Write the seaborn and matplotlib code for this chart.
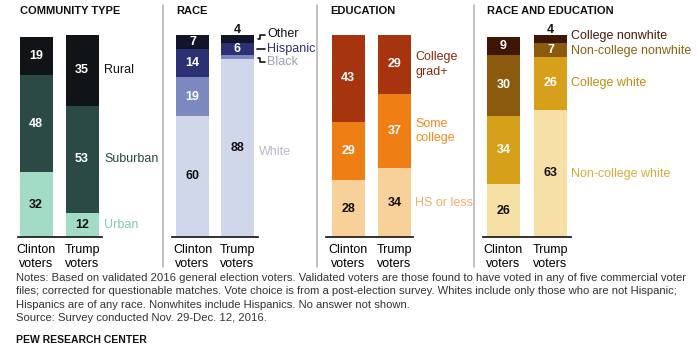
import matplotlib
matplotlib.use("Agg")
import matplotlib.pyplot as plt
import seaborn as sns
import numpy as np
import pandas as pd

sns.set_style("white")
plt.rcParams['font.family'] = ['Liberation Sans', 'DejaVu Sans']

voters = ["Clinton voters", "Trump voters"]
tick_labels = ["Clinton\nvoters", "Trump\nvoters"]

# Data (bottom segment first)
community_cats = ["Urban", "Suburban", "Rural"]
community_clinton = [32, 48, 19]
community_trump = [12, 53, 35]

race_cats = ["White", "Black", "Hispanic", "Other"]
race_clinton = [60, 19, 14, 7]
race_trump = [88, 2, 6, 4]

edu_cats = ["HS or less", "Some\ncollege", "College\ngrad+"]
edu_clinton = [28, 29, 43]
edu_trump = [34, 37, 29]

re_cats = ["Non-college white", "College white", "Non-college nonwhite", "College nonwhite"]
re_clinton = [26, 34, 30, 9]
re_trump = [63, 26, 7, 4]

W, H = 700, 350
fig = plt.figure(figsize=(7, 3.5), dpi=100)
fig.patch.set_facecolor("white")

BASE_Y, TOP_Y = 237, 35


def make_panel(c_center, t_center, base_left, base_right, cats, cvals, tvals, colors,
               val_colors_c, val_colors_t, title, title_x):
    spacing = t_center - c_center
    ax = fig.add_axes([base_left / W, (H - BASE_Y) / H, (base_right - base_left) / W,
                       (BASE_Y - TOP_Y) / H])
    width = 33 / spacing
    cum_c = np.cumsum(cvals)
    cum_t = np.cumsum(tvals)
    n = len(cats)
    for i in range(n - 1, -1, -1):
        df = pd.DataFrame({"voter": voters, "value": [cum_c[i], cum_t[i]]})
        sns.barplot(data=df, x="voter", y="value", order=voters, color=colors[i],
                    width=width, errorbar=None, ax=ax, linewidth=0, saturation=1)
    ax.set_xlim((base_left - c_center) / spacing, (base_right - c_center) / spacing)
    ax.set_ylim(0, 100)
    ax.set_xlabel("")
    ax.set_ylabel("")
    ax.set_yticks([])
    ax.set_xticks([0, 1])
    ax.set_xticklabels(tick_labels, fontsize=9, color="#000000", linespacing=1.2)
    ax.tick_params(axis="x", length=0, pad=5)
    for s in ["top", "left", "right"]:
        ax.spines[s].set_visible(False)
    ax.spines["bottom"].set_color("#222222")
    ax.spines["bottom"].set_linewidth(1.3)
    ax.set_facecolor("none")
    fig.text(title_x / W, 1 - 11 / H, title, fontsize=8, fontweight="bold",
             color="#111111", va="center", ha="left")
    # value labels
    for j, (vals, cums, vcols) in enumerate([(cvals, cum_c, val_colors_c),
                                             (tvals, cum_t, val_colors_t)]):
        for i, v in enumerate(vals):
            col = vcols[i]
            if col is None:
                continue
            if col == "above":
                ax.text(j, cums[i] + 2.5, str(v), ha="center", va="center",
                        fontsize=9, fontweight="bold", color="#111111", clip_on=False)
            else:
                ax.text(j, cums[i] - v / 2, str(v), ha="center", va="center",
                        fontsize=9, fontweight="bold", color=col)
    return ax, spacing, c_center


def px_to_data(px, c_center, spacing):
    return (px - c_center) / spacing


def py_to_data(py):
    return (BASE_Y - py) / (BASE_Y - TOP_Y) * 100


WH = "white"
BK = "#111111"

# Panel 1: community type
com_colors = ["#a3dcc6", "#2b4a46", "#111416"]
ax1, sp1, cc1 = make_panel(36, 82, 18, 102, community_cats, community_clinton, community_trump,
                           com_colors, [BK, WH, WH], [BK, WH, WH], "COMMUNITY TYPE", 20)
lab_cols = ["#7fcbb0", "#2b4a46", "#111111"]
cum = np.cumsum(community_trump)
for i, c in enumerate(community_cats):
    ax1.text(px_to_data(104, cc1, sp1), cum[i] - community_trump[i] / 2, c,
             ha="left", va="center", fontsize=9, color=lab_cols[i], clip_on=False)

# Panel 2: race
race_colors = ["#d0d7ea", "#7d88bf", "#2c3174", "#12142a"]
ax2, sp2, cc2 = make_panel(192.5, 237.5, 172, 258, race_cats, race_clinton, race_trump,
                           race_colors, [BK, WH, WH, WH], [BK, None, WH, "above"], "RACE", 176)
cum = np.cumsum(race_trump)
ax2.text(px_to_data(259, cc2, sp2), cum[0] - race_trump[0] / 2 - 2, "White",
         ha="left", va="center", fontsize=9, color="#b4b8c8", clip_on=False)
race_lab = [("Other", 34, "#111111"), ("Hispanic", 49, "#2c3174"), ("Black", 62, "#9aa0b8")]
for name, py, col in race_lab:
    ax2.text(px_to_data(267, cc2, sp2), py_to_data(py), name, ha="left", va="center",
             fontsize=9, color=col, clip_on=False)
# connectors
xd = lambda p: px_to_data(p, cc2, sp2)
ax2.plot([xd(258), xd(260), xd(260), xd(265)],
         [py_to_data(39), py_to_data(39), py_to_data(35), py_to_data(35)],
         color="#111111", lw=1.2, clip_on=False)
ax2.plot([xd(257), xd(265)], [py_to_data(49), py_to_data(49)], color="#111111", lw=1.2,
         clip_on=False)
ax2.plot([xd(258), xd(260), xd(260), xd(265)],
         [py_to_data(58), py_to_data(58), py_to_data(62), py_to_data(62)],
         color="#111111", lw=1.2, clip_on=False)

# Panel 3: education
edu_colors = ["#f7d09a", "#ef7f14", "#a6340f"]
ax3, sp3, cc3 = make_panel(348, 394.5, 326, 413, edu_cats, edu_clinton, edu_trump,
                           edu_colors, [BK, WH, WH], [BK, WH, WH], "EDUCATION", 330)
edu_lab_cols = ["#f2ad66", "#f08a1e", "#8b2a12"]
cum = np.cumsum(edu_trump)
for i, c in enumerate(edu_cats):
    ax3.text(px_to_data(415, cc3, sp3), cum[i] - edu_trump[i] / 2, c, ha="left",
             va="center", fontsize=9, color=edu_lab_cols[i], linespacing=1.3, clip_on=False)

# Panel 4: race and education
re_colors = ["#f6e0a6", "#d7a01a", "#8c5a0e", "#3d1606"]
ax4, sp4, cc4 = make_panel(503.5, 550.5, 483, 571, re_cats, re_clinton, re_trump,
                           re_colors, [BK, WH, WH, WH], [BK, WH, WH, "above"],
                           "RACE AND EDUCATION", 487)
re_lab = [("Non-college white", 174, "#d4ae3a"), ("College white", 83, "#c08c10"),
          ("Non-college nonwhite", 51, "#8a6410"), ("College nonwhite", 36, "#4a1a08")]
for name, py, col in re_lab:
    ax4.text(px_to_data(571, cc4, sp4), py_to_data(py), name, ha="left", va="center",
             fontsize=9, color=col, clip_on=False)

# dividers
for xp in [163, 317, 474]:
    fig.add_artist(plt.Line2D([xp / W, xp / W], [1 - 5 / H, 1 - 267 / H],
                              color="#b5b5b5", lw=1.2))

notes = ("Notes: Based on validated 2016 general election voters. Validated voters are those found to have voted in any of five commercial voter\n"
         "files; corrected for questionable matches. Vote choice is from a post-election survey. Whites include only those who are not Hispanic;\n"
         "Hispanics are of any race. Nonwhites include Hispanics. No answer not shown.\n"
         "Source: Survey conducted Nov. 29-Dec. 12, 2016.")
fig.text(16 / W, 1 - 273 / H, notes, fontsize=8.1, color="#333333", va="top", ha="left",
         linespacing=1.42)
fig.text(16 / W, 1 - 340 / H, "PEW RESEARCH CENTER", fontsize=7.5, fontweight="bold",
         color="#111111", va="center", ha="left")

fig.savefig("out.png", dpi=100, facecolor="white")
